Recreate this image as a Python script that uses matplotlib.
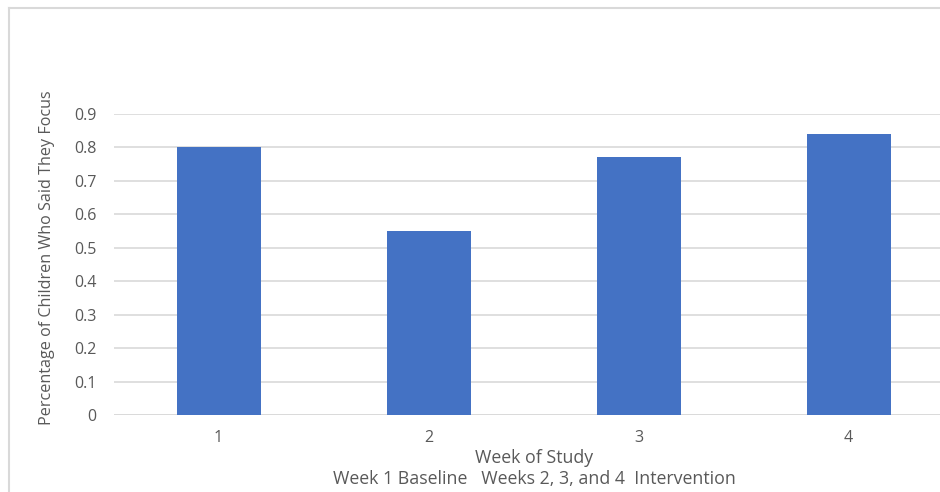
import matplotlib
matplotlib.use("Agg")
import matplotlib.pyplot as plt
from matplotlib.lines import Line2D

weeks = ["1", "2", "3", "4"]
focus_share = [0.80, 0.55, 0.77, 0.84]
y_ticks = [0, 0.1, 0.2, 0.3, 0.4, 0.5, 0.6, 0.7, 0.8, 0.9]

TEXT = "#595959"
GRID = "#D9D9D9"
BAR = "#4472C4"

plt.rcParams["font.family"] = ["Open Sans", "DejaVu Sans"]

W, H = 940, 492
fig = plt.figure(figsize=(W / 100, H / 100), dpi=100)
fig.patch.set_facecolor("white")

# plot area in pixel terms; the chart runs off the right edge
left_px, right_px, top_px, bottom_px = 113.5, 940, 114, 415
ax = fig.add_axes([left_px / W, 1 - bottom_px / H,
                   (right_px - left_px) / W, (bottom_px - top_px) / H])

x = list(range(len(weeks)))
ax.bar(x, focus_share, width=0.4, color=BAR, zorder=3)

slot = 210.0
ax.set_xlim(-0.5, -0.5 + (right_px - left_px) / slot)
ax.set_ylim(0, 0.9)
ax.set_yticks(y_ticks)
ax.set_yticklabels([f"{t:g}" for t in y_ticks])
ax.set_xticks(x)
ax.set_xticklabels(weeks)

ax.grid(axis="y", color=GRID, linewidth=1.2, zorder=0)
for s in ax.spines.values():
    s.set_visible(False)
ax.axhline(0, color=GRID, linewidth=1.2, zorder=1)
ax.tick_params(axis="both", length=0, colors=TEXT, labelsize=11.5)
ax.tick_params(axis="y", pad=12.5)
ax.tick_params(axis="x", pad=11)

fig.text(47 / W, 1 - 258 / H, "Percentage of Children Who Said They Focus",
         color=TEXT, fontsize=11.6, rotation=90, ha="center", va="center")

fig.text(534 / W, 1 - 458 / H, "Week of Study", color=TEXT, fontsize=12.8,
         ha="center", va="center")
fig.text(534 / W, 1 - 479 / H,
         "Week 1 Baseline   Weeks 2, 3, and 4  Intervention",
         color=TEXT, fontsize=12.8, ha="center", va="center")

# outer chart frame (top and left edges)
fig.add_artist(Line2D([8.5 / W, 1], [1 - 8 / H, 1 - 8 / H],
                      color=GRID, linewidth=1.5, transform=fig.transFigure))
fig.add_artist(Line2D([8.5 / W, 8.5 / W], [0, 1 - 8 / H],
                      color=GRID, linewidth=1.5, transform=fig.transFigure))

fig.savefig("out.png", dpi=100, facecolor="white")
